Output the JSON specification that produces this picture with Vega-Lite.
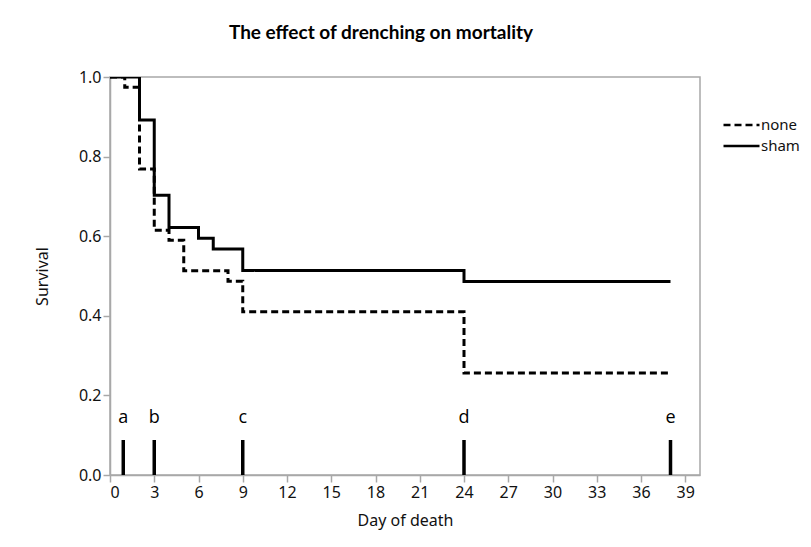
{
  "$schema": "https://vega.github.io/schema/vega-lite/v6.json",
  "autosize": {"type": "none"},
  "width": 590,
  "height": 398,
  "padding": {"left": 110, "top": 77, "right": 111, "bottom": 72},
  "background": "white",
  "title": {
    "text": "The effect of drenching on mortality",
    "font": "Lato",
    "fontSize": 19,
    "fontWeight": "bold",
    "color": "#000000",
    "anchor": "middle",
    "dx": -24,
    "offset": 26
  },
  "config": {
    "view": {"stroke": "#a8a8a8", "strokeWidth": 1.5},
    "axis": {
      "domainColor": "#a8a8a8",
      "domainWidth": 1.5,
      "tickColor": "#a8a8a8",
      "tickWidth": 1.5,
      "grid": false,
      "labelFont": "Noto Sans",
      "labelFontSize": 16,
      "labelColor": "#111111",
      "titleFont": "Noto Sans",
      "titleFontSize": 16,
      "titleFontWeight": "normal",
      "titleColor": "#111111"
    }
  },
  "datasets": {
    "curves": [
      {"group": "none", "day": 0, "surv": 1.0},
      {"group": "none", "day": 1, "surv": 0.974},
      {"group": "none", "day": 2, "surv": 0.769},
      {"group": "none", "day": 3, "surv": 0.615},
      {"group": "none", "day": 4, "surv": 0.59},
      {"group": "none", "day": 5, "surv": 0.513},
      {"group": "none", "day": 8, "surv": 0.487},
      {"group": "none", "day": 9, "surv": 0.41},
      {"group": "none", "day": 24, "surv": 0.256},
      {"group": "none", "day": 38, "surv": 0.256},
      {"group": "sham", "day": 0, "surv": 1.0},
      {"group": "sham", "day": 2, "surv": 0.892},
      {"group": "sham", "day": 3, "surv": 0.703},
      {"group": "sham", "day": 4, "surv": 0.622},
      {"group": "sham", "day": 6, "surv": 0.595},
      {"group": "sham", "day": 7, "surv": 0.568},
      {"group": "sham", "day": 9, "surv": 0.514},
      {"group": "sham", "day": 24, "surv": 0.486},
      {"group": "sham", "day": 38, "surv": 0.486}
    ],
    "events": [
      {"label": "a", "day": 0.9},
      {"label": "b", "day": 3},
      {"label": "c", "day": 9},
      {"label": "d", "day": 24},
      {"label": "e", "day": 38}
    ]
  },
  "layer": [
    {
      "data": {"name": "curves"},
      "mark": {"type": "line", "interpolate": "step-after", "strokeWidth": 3, "color": "#000000", "clip": true},
      "encoding": {
        "x": {
          "field": "day",
          "type": "quantitative",
          "scale": {"domain": [0, 40], "nice": false, "zero": false},
          "axis": {
            "title": "Day of death",
            "values": [0, 1.5, 3, 4.5, 6, 7.5, 9, 10.5, 12, 13.5, 15, 16.5, 18, 19.5, 21, 22.5, 24, 25.5, 27, 28.5, 30, 31.5, 33, 34.5, 36, 37.5, 39],
            "labelExpr": "datum.value % 3 === 0 ? datum.value : ''",
            "tickSize": {"condition": {"test": "datum.value % 3 === 0", "value": 7}, "value": 4},
            "labelPadding": 2,
            "titlePadding": 12
          }
        },
        "y": {
          "field": "surv",
          "type": "quantitative",
          "scale": {"domain": [0, 1], "nice": false},
          "axis": {
            "title": "Survival",
            "values": [0, 0.1, 0.2, 0.3, 0.4, 0.5, 0.6, 0.7, 0.8, 0.9, 1.0],
            "labelExpr": "round(datum.value * 10) % 2 === 0 ? format(datum.value, '.1f') : ''",
            "tickSize": {"condition": {"test": "round(datum.value * 10) % 2 === 0", "value": 7}, "value": 4},
            "labelPadding": 2,
            "titlePadding": 28
          }
        },
        "strokeDash": {
          "field": "group",
          "type": "nominal",
          "scale": {"domain": ["none", "sham"], "range": [[7, 4], [1, 0]]},
          "legend": {
            "title": null,
            "orient": "none",
            "legendX": 612,
            "legendY": 40,
            "padding": 0,
            "symbolType": "stroke",
            "symbolSize": 1296,
            "symbolStrokeColor": "#000000",
            "symbolStrokeWidth": 2.5,
            "clipHeight": 16,
            "rowPadding": 5,
            "labelOffset": 0,
            "labelFont": "Noto Sans",
            "labelFontSize": 15,
            "labelColor": "#111111"
          }
        }
      }
    },
    {
      "data": {"name": "events"},
      "mark": {"type": "rule", "strokeWidth": 3.5, "color": "#000000"},
      "encoding": {
        "x": {"field": "day", "type": "quantitative"},
        "y": {"datum": 0},
        "y2": {"datum": 0.088}
      }
    },
    {
      "data": {"name": "events"},
      "mark": {"type": "text", "font": "Open Sans", "fontSize": 18, "color": "#000000", "baseline": "middle", "align": "center"},
      "encoding": {
        "x": {"field": "day", "type": "quantitative"},
        "y": {"datum": 0.143},
        "text": {"field": "label"}
      }
    }
  ]
}
